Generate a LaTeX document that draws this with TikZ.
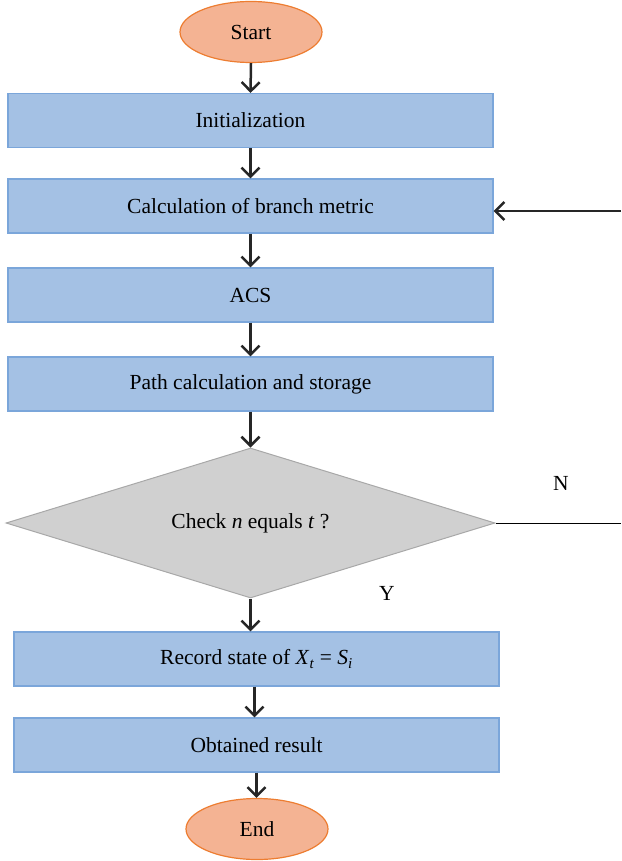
\documentclass[tikz,border=0pt]{standalone}
\usepackage{fontspec}
\setmainfont{Liberation Serif}
\usetikzlibrary{shapes.geometric,arrows.meta}
\definecolor{boxfill}{HTML}{A4C1E4}
\definecolor{boxline}{HTML}{7BA6DA}
\definecolor{ovfill}{HTML}{F4B393}
\definecolor{ovline}{HTML}{ED7D31}
\definecolor{dfill}{HTML}{D0D0D0}
\definecolor{dline}{HTML}{A8A8A8}
\tikzset{
  procbox/.style={draw=boxline, fill=boxfill, line width=1.2pt, minimum width=485pt, minimum height=54pt, inner sep=0pt, font=\fontsize{21.5}{24}\selectfont},
  term/.style={ellipse, draw=ovline, fill=ovfill, line width=1.2pt, minimum width=142pt, minimum height=61pt, inner sep=0pt, font=\fontsize{21.5}{24}\selectfont},
  flow/.style={line width=2.5pt, draw=black!85, -{Straight Barb[length=9pt,width=18pt,line width=2.5pt]}},
  lbl/.style={font=\fontsize{21.5}{24}\selectfont}
}
\begin{document}
\begin{tikzpicture}[x=1pt,y=-1pt]
\useasboundingbox (0,0) rectangle (621,861);
\node[term] (start) at (251,32) {Start};
\node[procbox] (init) at (250.5,120.5) {Initialization};
\node[procbox] (branch) at (250.5,206) {Calculation of branch metric};
\node[procbox] (acs) at (250.5,295) {ACS};
\node[procbox] (path) at (250.5,384) {Path calculation and storage};
\node[diamond, draw=dline, fill=dfill, line width=1pt, aspect=3.26, minimum width=489pt, minimum height=150pt, inner sep=0pt, font=\fontsize{21.5}{24}\selectfont] (check) at (250.5,523) {Check \textit{n} equals \textit{t} ?};
\node[procbox] (record) at (256.5,659) {Record state of \textit{X}\textsubscript{\textit{t}} = \textit{S}\textsubscript{\textit{i}}};
\node[procbox] (result) at (256.5,745) {Obtained result};
\node[term] (end) at (257,829) {End};
\coordinate (fb) at (621,211);
\coordinate (nb) at (621,523);
\node[lbl] (nl) at (561,483) {N};
\node[lbl] (yl) at (387,593) {Y};
\draw[flow] (start.south) -- (init.north);
\draw[flow] (init.south) -- (branch.north);
\draw[flow] (branch.south) -- (acs.north);
\draw[flow] (acs.south) -- (path.north);
\draw[flow] (path.south) -- (check.north);
\draw[flow] (check.south) -- (check.south |- record.north);
\draw[flow] ([xshift=-2pt]record.south) -- ([xshift=-2pt]record.south |- result.north);
\draw[flow] (result.south) -- (result.south |- end.north);
\draw[flow] (fb) -- (fb -| branch.east);
\draw[line width=1pt] (check.east) -- (nb);
\end{tikzpicture}
\end{document}
